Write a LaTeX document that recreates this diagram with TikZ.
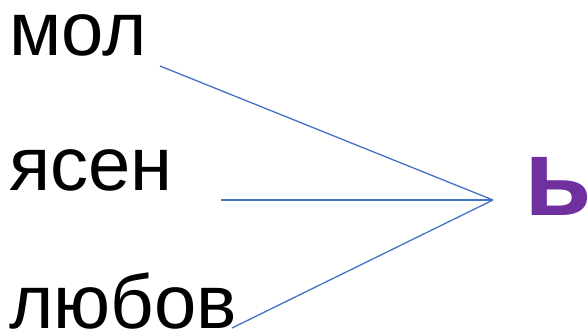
\documentclass[tikz,border=0pt]{standalone}
\usepackage{fontspec}
\setmainfont{Liberation Sans}
\definecolor{lineblue}{HTML}{4472C4}
\definecolor{softpurple}{HTML}{7030A0}
\tikzset{
  word/.style={anchor=base west, inner sep=0pt, font=\fontsize{76bp}{86bp}\selectfont, text=black},
  suffix/.style={anchor=base west, inner sep=0pt, font=\fontsize{110bp}{120bp}\selectfont\bfseries, text=softpurple},
  link/.style={draw=lineblue, line width=1.3bp}
}
\begin{document}
\begin{tikzpicture}[x=1bp,y=-1bp]
\useasboundingbox (0,0) rectangle (588,332);
\node[word] (mol) at (9,55) {мол};
\node[word] (yasen) at (9,190) {ясен};
\node[word] (lyubov) at (9,328) {любов};
\node[suffix] (soft) at (524,215) {ь};
\coordinate (hub) at (493,200);
\coordinate (s1) at (160,66);
\coordinate (s2) at (221,200);
\coordinate (s3) at (232,328);
\draw[link] (s1) -- (hub);
\draw[link] (s2) -- (hub);
\draw[link] (s3) -- (hub);
\end{tikzpicture}
\end{document}
